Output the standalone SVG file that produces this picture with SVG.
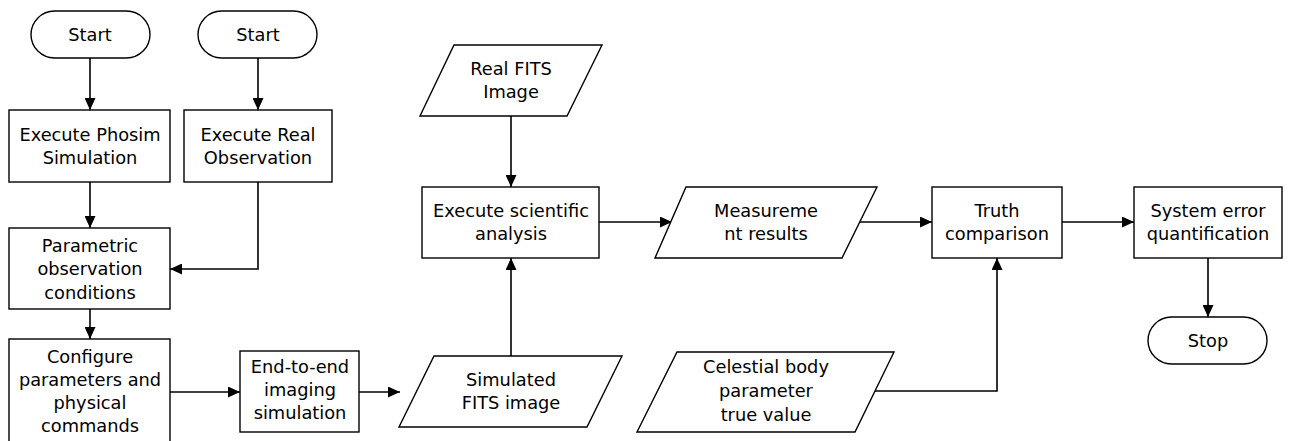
<svg xmlns="http://www.w3.org/2000/svg" width="1291" height="441" viewBox="0 0 1291 441">
<style>
.s{fill:#fff;stroke:#000;stroke-width:1.4}
.t{font-family:"DejaVu Sans","Noto Sans",sans-serif;font-size:17.8px;fill:#000;text-anchor:middle}
.c{fill:none;stroke:#000;stroke-width:1.6}
</style>
<defs>
<marker id="ah" markerUnits="userSpaceOnUse" markerWidth="12" markerHeight="11" refX="12" refY="5.5" orient="auto">
<path d="M0,0 L12,5.5 L0,11 z" fill="#000"/>
</marker>
</defs>
<rect width="1291" height="441" fill="#fff"/>
<g id="connectors">
<path class="c" d="M90,58 V110" marker-end="url(#ah)"/>
<path class="c" d="M258,58 V110" marker-end="url(#ah)"/>
<path class="c" d="M90,182 V228" marker-end="url(#ah)"/>
<path class="c" d="M258,182 V269 H170" marker-end="url(#ah)"/>
<path class="c" d="M90,309 V339" marker-end="url(#ah)"/>
<path class="c" d="M170,392 H240" marker-end="url(#ah)"/>
<path class="c" d="M359,392 H400" marker-end="url(#ah)"/>
<path class="c" d="M511,116 V187" marker-end="url(#ah)"/>
<path class="c" d="M511,356 V258" marker-end="url(#ah)"/>
<path class="c" d="M599,222 H672" marker-end="url(#ah)"/>
<path class="c" d="M860,222 H932" marker-end="url(#ah)"/>
<path class="c" d="M875,391 H997 V258" marker-end="url(#ah)"/>
<path class="c" d="M1062,222 H1134" marker-end="url(#ah)"/>
<path class="c" d="M1208,258 V317" marker-end="url(#ah)"/>
</g>
<g id="start1"><rect class="s" x="31" y="11" width="119" height="47" rx="23.5"/><text class="t" x="90" y="40.5">Start</text></g>
<g id="start2"><rect class="s" x="198" y="11" width="119" height="47" rx="23.5"/><text class="t" x="258" y="40.5">Start</text></g>
<g id="phosim"><rect class="s" x="9" y="110" width="161" height="72"/><text class="t" x="90" y="140.5">Execute Phosim</text><text class="t" x="90" y="164.3">Simulation</text></g>
<g id="realobs"><rect class="s" x="184" y="110" width="148" height="72"/><text class="t" x="258" y="140.5">Execute Real</text><text class="t" x="258" y="164.3">Observation</text></g>
<g id="param"><rect class="s" x="9" y="228" width="161" height="81"/><text class="t" x="90" y="251.5">Parametric</text><text class="t" x="90" y="275">observation</text><text class="t" x="90" y="298.5">conditions</text></g>
<g id="configure"><rect class="s" x="9" y="339" width="161" height="108"/><text class="t" x="90" y="363">Configure</text><text class="t" x="90" y="386">parameters and</text><text class="t" x="90" y="409">physical</text><text class="t" x="90" y="432">commands</text></g>
<g id="e2e"><rect class="s" x="240" y="351" width="119" height="81"/><text class="t" x="300" y="373">End-to-end</text><text class="t" x="300" y="396">imaging</text><text class="t" x="300" y="419">simulation</text></g>
<g id="simfits"><polygon class="s" points="434,356 622,356 587,427 399,427"/><text class="t" x="511" y="385.5">Simulated</text><text class="t" x="511" y="409">FITS image</text></g>
<g id="realfits"><polygon class="s" points="454,45 602,45 567,116 420,116"/><text class="t" x="511" y="74.5">Real FITS</text><text class="t" x="511" y="98">Image</text></g>
<g id="analysis"><rect class="s" x="422" y="187" width="177" height="71"/><text class="t" x="511" y="216.5">Execute scientific</text><text class="t" x="511" y="240">analysis</text></g>
<g id="measure"><polygon class="s" points="686,187 877,187 842,258 655,258"/><text class="t" x="766" y="216.5">Measureme</text><text class="t" x="766" y="240">nt results</text></g>
<g id="celestial"><polygon class="s" points="677,352 894,352 855,432 637,432"/><text class="t" x="766" y="373">Celestial body</text><text class="t" x="766" y="397">parameter</text><text class="t" x="766" y="420.5">true value</text></g>
<g id="truth"><rect class="s" x="932" y="187" width="130" height="71"/><text class="t" x="997" y="216.5">Truth</text><text class="t" x="997" y="240">comparison</text></g>
<g id="syserr"><rect class="s" x="1134" y="187" width="148" height="71"/><text class="t" x="1208" y="216.5">System error</text><text class="t" x="1208" y="240">quantification</text></g>
<g id="stop"><rect class="s" x="1148" y="317" width="119" height="47" rx="23.5"/><text class="t" x="1208" y="346.5">Stop</text></g>
</svg>
